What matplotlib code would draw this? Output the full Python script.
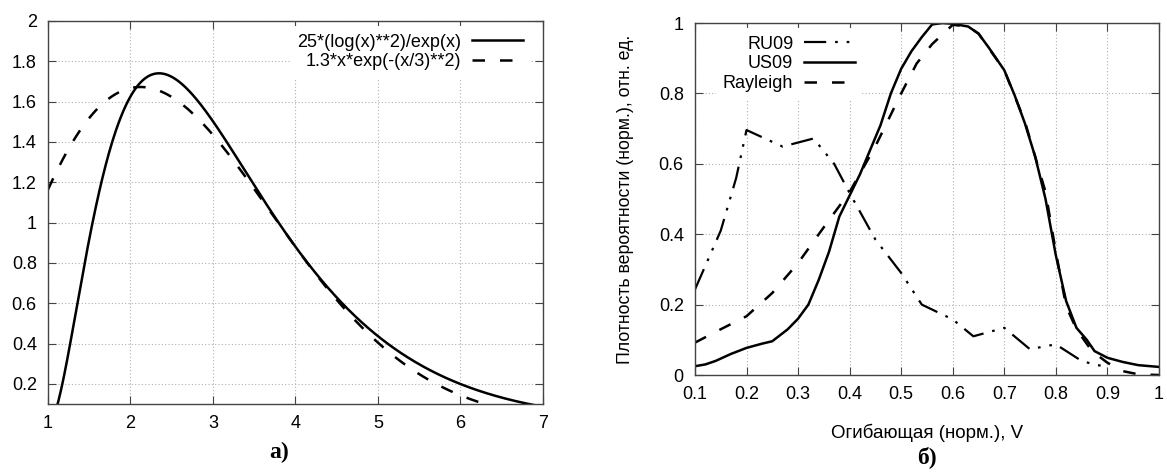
import numpy as np
import matplotlib
matplotlib.use("Agg")
import matplotlib.pyplot as plt

plt.rcParams['font.family'] = ['Liberation Sans', 'DejaVu Sans']

# panel a) - curves given by the legend formulas
label_a1 = "25*(log(x)**2)/exp(x)"
label_a2 = "1.3*x*exp(-(x/3)**2)"
xa = np.linspace(1, 7, 600)
ya1 = 25 * np.log(xa) ** 2 / np.exp(xa)
ya2 = 1.3 * xa * np.exp(-(xa / 3) ** 2)

# panel б)
us09_x = [0.1, 0.12, 0.14, 0.17, 0.2, 0.23, 0.25, 0.28, 0.3, 0.32, 0.34, 0.36, 0.38, 0.4,
          0.42, 0.44, 0.46, 0.48, 0.5, 0.52, 0.54, 0.56, 0.58, 0.6, 0.63, 0.65, 0.67, 0.7,
          0.72, 0.74, 0.76, 0.78, 0.8, 0.82, 0.84, 0.86, 0.875, 0.9, 0.93, 0.96, 1.0]
us09_y = [0.025, 0.03, 0.04, 0.06, 0.077, 0.089, 0.096, 0.13, 0.16, 0.2, 0.27, 0.35, 0.45, 0.51,
          0.57, 0.64, 0.71, 0.8, 0.87, 0.92, 0.96, 0.996, 1.0, 0.998, 0.99, 0.97, 0.93, 0.866,
          0.795, 0.715, 0.62, 0.5, 0.34, 0.21, 0.134, 0.1, 0.068, 0.049, 0.037, 0.028, 0.023]

ray_x = [0.1, 0.15, 0.2, 0.25, 0.3, 0.35, 0.4, 0.45, 0.5, 0.53, 0.56, 0.6, 0.63, 0.65, 0.7,
         0.74, 0.78, 0.8, 0.82, 0.84, 0.87, 0.9, 0.93, 0.96, 1.0]
ray_y = [0.092, 0.13, 0.167, 0.233, 0.318, 0.42, 0.52, 0.65, 0.8, 0.885, 0.94, 0.995, 0.99, 0.97,
         0.866, 0.72, 0.52, 0.35, 0.195, 0.13, 0.068, 0.035, 0.011, 0.002, 0.0]

ru09_x = [0.1, 0.15, 0.18, 0.2, 0.27, 0.33, 0.37, 0.4, 0.45, 0.5, 0.54, 0.6, 0.64, 0.7,
          0.75, 0.78, 0.8, 0.85, 0.88, 0.9]
ru09_y = [0.243, 0.41, 0.56, 0.696, 0.649, 0.672, 0.6, 0.517, 0.385, 0.29, 0.2, 0.158, 0.11,
          0.134, 0.073, 0.082, 0.087, 0.04, 0.028, 0.025]

fs = 13
fig = plt.figure(figsize=(11.67, 4.75), dpi=100)
ax1 = fig.add_axes([0.0411, 0.1495, 0.4242, 0.8063])
ax2 = fig.add_axes([0.5955, 0.2105, 0.3976, 0.741])

def style(ax):
    ax.grid(True, color='#b0b0b0', linestyle=(0, (1, 2)), linewidth=0.8)
    ax.tick_params(direction='in', top=True, right=True, length=6, width=0.8,
                   labelsize=fs, pad=8, color='#444444')
    for s in ax.spines.values():
        s.set_color('#444444')
        s.set_linewidth(1.0)

# a)
ax1.plot(xa, ya1, color='black', lw=1.8, label=label_a1)
ax1.plot(xa, ya2, color='black', lw=1.8, dashes=(5, 6), label=label_a2)
ax1.set_xlim(1, 7)
ax1.set_ylim(0.1, 2)
ax1.set_xticks(range(1, 8))
ax1.set_yticks([0.2, 0.4, 0.6, 0.8, 1, 1.2, 1.4, 1.6, 1.8, 2])
ax1.set_yticklabels(['0.2', '0.4', '0.6', '0.8', '1', '1.2', '1.4', '1.6', '1.8', '2'])
style(ax1)
leg1 = ax1.legend(loc='upper right', markerfirst=False, fontsize=fs, frameon=True,
                  handlelength=2.8, handletextpad=0.6, labelspacing=0.15,
                  borderaxespad=0.3, bbox_to_anchor=(0.985, 1.0))
leg1.get_frame().set_facecolor('white')
leg1.get_frame().set_edgecolor('none')
leg1.get_frame().set_alpha(1)

# б)
ax2.plot(ru09_x, ru09_y, color='black', lw=1.6, dashes=(10, 4, 1.2, 4, 1.2, 4), label='RU09')
ax2.plot(us09_x, us09_y, color='black', lw=1.8, label='US09')
ax2.plot(ray_x, ray_y, color='black', lw=1.8, dashes=(5, 6), label='Rayleigh')
ax2.set_xlim(0.1, 1)
ax2.set_ylim(0, 1)
ax2.set_xticks([0.1, 0.2, 0.3, 0.4, 0.5, 0.6, 0.7, 0.8, 0.9, 1])
ax2.set_xticklabels(['0.1', '0.2', '0.3', '0.4', '0.5', '0.6', '0.7', '0.8', '0.9', '1'])
ax2.set_yticks([0, 0.2, 0.4, 0.6, 0.8, 1])
ax2.set_yticklabels(['0', '0.2', '0.4', '0.6', '0.8', '1'])
style(ax2)
leg2 = ax2.legend(loc='upper left', markerfirst=False, fontsize=fs, frameon=True,
                  handlelength=2.8, handletextpad=0.6, labelspacing=0.15,
                  borderaxespad=0.3, bbox_to_anchor=(0.033, 1.0))
leg2.get_frame().set_facecolor('white')
leg2.get_frame().set_edgecolor('none')
leg2.get_frame().set_alpha(1)
ax2.set_xlabel('Огибающая (норм.), V', fontsize=13.5, labelpad=15)
ax2.set_ylabel('Плотность вероятности (норм.), отн. ед.', fontsize=12.8, labelpad=18)

fig.text(0.239, 0.048, 'а)', fontsize=17, fontweight='bold', family='Liberation Serif',
         ha='center', va='center')
fig.text(0.794, 0.038, 'б)', fontsize=17, fontweight='bold', family='Liberation Serif',
         ha='center', va='center')

fig.savefig('out.png', dpi=100)
